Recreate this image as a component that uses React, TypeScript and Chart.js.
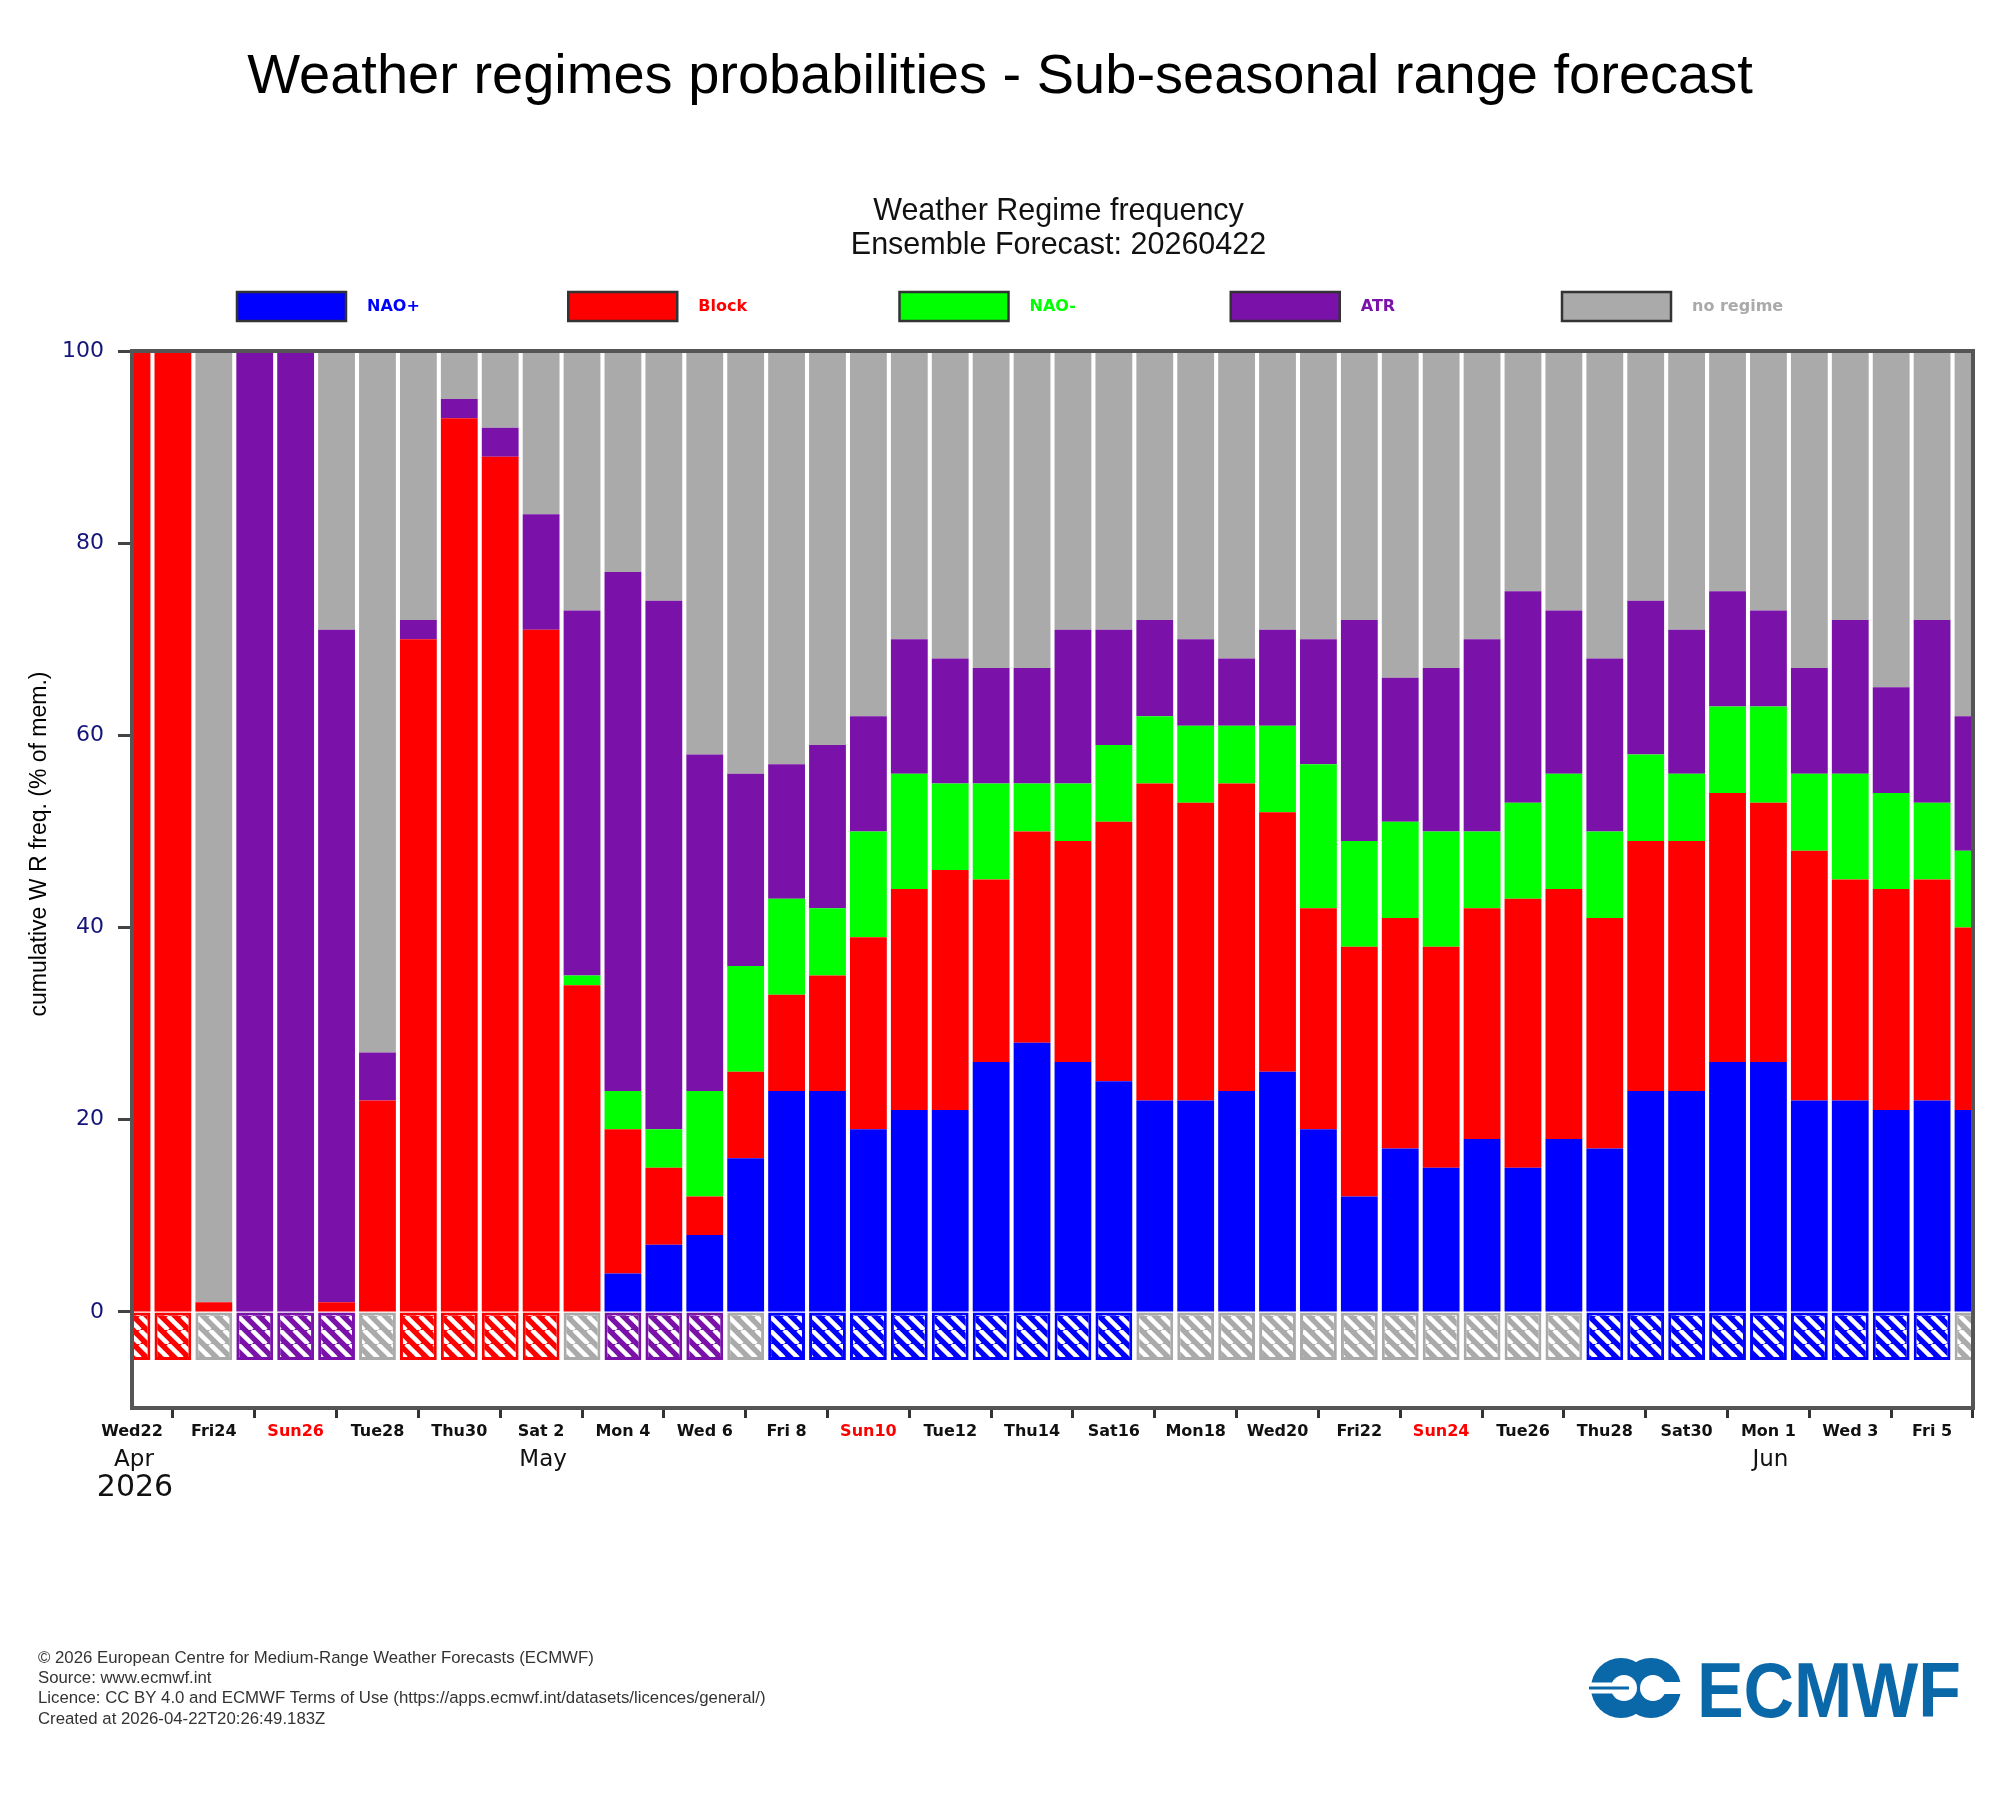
import React, { useEffect, useRef } from 'react';
import { Chart, registerables } from 'chart.js';

Chart.register(...registerables);

// ---------- data ----------
const categories = [
  'Apr 22', 'Apr 23', 'Apr 24', 'Apr 25', 'Apr 26', 'Apr 27', 'Apr 28', 'Apr 29', 'Apr 30',
  'May 1', 'May 2', 'May 3', 'May 4', 'May 5', 'May 6', 'May 7', 'May 8', 'May 9', 'May 10',
  'May 11', 'May 12', 'May 13', 'May 14', 'May 15', 'May 16', 'May 17', 'May 18', 'May 19',
  'May 20', 'May 21', 'May 22', 'May 23', 'May 24', 'May 25', 'May 26', 'May 27', 'May 28',
  'May 29', 'May 30', 'May 31', 'Jun 1', 'Jun 2', 'Jun 3', 'Jun 4', 'Jun 5', 'Jun 6',
];

const tickLabels = [
  'Wed22', 'Fri24', 'Sun26', 'Tue28', 'Thu30', 'Sat 2', 'Mon 4', 'Wed 6', 'Fri 8', 'Sun10',
  'Tue12', 'Thu14', 'Sat16', 'Mon18', 'Wed20', 'Fri22', 'Sun24', 'Tue26', 'Thu28', 'Sat30',
  'Mon 1', 'Wed 3', 'Fri 5',
];

const monthLabels = ['Apr', 'May', 'Jun'];
const monthLabelIndex = [0, 10, 40];
const yearLabel = '2026';
const yTickValues = [0, 20, 40, 60, 80, 100];

const naoPlus = [
  0, 0, 0, 0, 0, 0, 0, 0, 0, 0, 0, 0, 4, 7, 8, 16, 23, 23, 19, 21, 21, 26, 28, 26, 24, 22, 22,
  23, 25, 19, 12, 17, 15, 18, 15, 18, 17, 23, 23, 26, 26, 22, 22, 21, 22, 21,
];
const block = [
  100, 100, 1, 0, 0, 1, 22, 70, 93, 89, 71, 34, 15, 8, 4, 9, 10, 12, 20, 23, 25, 19, 22, 23, 27,
  33, 31, 32, 27, 23, 26, 24, 23, 24, 28, 26, 24, 26, 26, 28, 27, 26, 23, 23, 23, 19,
];
const naoMinus = [
  0, 0, 0, 0, 0, 0, 0, 0, 0, 0, 0, 1, 4, 4, 11, 11, 10, 7, 11, 12, 9, 10, 5, 6, 8, 7, 8, 6, 9,
  15, 11, 10, 12, 8, 10, 12, 9, 9, 7, 9, 10, 8, 11, 10, 8, 8,
];
const atr = [
  0, 0, 0, 100, 100, 70, 5, 2, 2, 3, 12, 38, 54, 55, 35, 20, 14, 17, 12, 14, 13, 12, 12, 16, 12,
  10, 9, 7, 10, 13, 23, 15, 17, 20, 22, 17, 18, 16, 15, 12, 10, 11, 16, 11, 19, 14,
];
const noRegime = [
  0, 0, 99, 0, 0, 29, 73, 28, 5, 8, 17, 27, 23, 26, 42, 44, 43, 41, 38, 30, 32, 33, 33, 29, 29,
  28, 30, 32, 29, 30, 28, 34, 33, 30, 25, 27, 32, 26, 29, 25, 27, 33, 28, 35, 28, 38,
];

// dominant regime per day (hatched boxes under the zero line)
const dominantRegime = [
  'Block', 'Block', 'no regime', 'ATR', 'ATR', 'ATR', 'no regime', 'Block', 'Block', 'Block',
  'Block', 'no regime', 'ATR', 'ATR', 'ATR', 'no regime',
  'NAO+', 'NAO+', 'NAO+', 'NAO+', 'NAO+', 'NAO+', 'NAO+', 'NAO+', 'NAO+',
  'no regime', 'no regime', 'no regime', 'no regime', 'no regime', 'no regime', 'no regime',
  'no regime', 'no regime', 'no regime', 'no regime',
  'NAO+', 'NAO+', 'NAO+', 'NAO+', 'NAO+', 'NAO+', 'NAO+', 'NAO+', 'NAO+',
  'no regime',
];

const regimeNames = ['NAO+', 'Block', 'NAO-', 'ATR', 'no regime'];
const regimeSeries = [naoPlus, block, naoMinus, atr, noRegime];

const footerLines = [
  '\u00A9 2026 European Centre for Medium-Range Weather Forecasts (ECMWF)',
  'Source: www.ecmwf.int',
  'Licence: CC BY 4.0 and ECMWF Terms of Use (https://apps.ecmwf.int/datasets/licences/general/)',
  'Created at 2026-04-22T20:26:49.183Z',
];

// ---------- styles ----------
const regimeColors: Record<string, string> = {
  'NAO+': '#0000ff',
  Block: '#ff0000',
  'NAO-': '#00ff00',
  ATR: '#7a12a9',
  'no regime': '#aaaaaa',
};
const HATCH_DEPTH = -5;
const LOGO_BLUE = '#0a68a8';

function makePattern(ctx: CanvasRenderingContext2D, color: string) {
  const s = 14;
  const c = document.createElement('canvas');
  c.width = s;
  c.height = s;
  const g = c.getContext('2d')!;
  g.fillStyle = color;
  g.fillRect(0, 0, s, s);
  g.strokeStyle = '#ffffff';
  g.lineWidth = 4.5;
  for (const off of [-s, 0, s]) {
    g.beginPath();
    g.moveTo(off, 0);
    g.lineTo(off + s, s);
    g.stroke();
  }
  return ctx.createPattern(c, 'repeat') as CanvasPattern;
}

const decorPlugin = {
  id: 'decor',
  beforeDraw(chart: any) {
    const { ctx, width, height } = chart;
    ctx.save();
    ctx.fillStyle = '#ffffff';
    ctx.fillRect(0, 0, width, height);
    ctx.restore();
  },
  afterDatasetsDraw(chart: any) {
    const { ctx, chartArea } = chart;
    ctx.save();
    ctx.strokeStyle = '#555555';
    ctx.lineWidth = 4;
    ctx.strokeRect(chartArea.left, chartArea.top, chartArea.right - chartArea.left, chartArea.bottom - chartArea.top);
    ctx.restore();
  },
  afterDraw(chart: any) {
    const { ctx, chartArea } = chart;
    const xScale = chart.scales.x;
    const cx = (chartArea.left + chartArea.right) / 2;
    ctx.save();

    // main title
    ctx.fillStyle = '#000000';
    ctx.textAlign = 'center';
    ctx.textBaseline = 'middle';
    ctx.font = '56px "Liberation Sans"';
    ctx.fillText('Weather regimes probabilities - Sub-seasonal range forecast', 1000, 78);

    // sub title
    ctx.fillStyle = '#111111';
    ctx.font = '30.5px "Liberation Sans"';
    ctx.fillText('Weather Regime frequency', cx + 6, 212);
    ctx.fillText('Ensemble Forecast: 20260422', cx + 6, 246);

    // legend
    regimeNames.forEach((name, k) => {
      const bx = 237 + k * 331.25;
      const by = 292;
      ctx.fillStyle = regimeColors[name];
      ctx.fillRect(bx, by, 109, 29);
      ctx.strokeStyle = '#333333';
      ctx.lineWidth = 2.5;
      ctx.strokeRect(bx, by, 109, 29);
      ctx.fillStyle = regimeColors[name];
      ctx.font = 'bold 16px "DejaVu Sans"';
      ctx.textAlign = 'left';
      ctx.textBaseline = 'middle';
      ctx.fillText(name, bx + 130, by + 15);
    });

    // y axis title
    ctx.save();
    ctx.translate(40, 844);
    ctx.rotate(-Math.PI / 2);
    ctx.fillStyle = '#000000';
    ctx.font = '23px "Liberation Sans"';
    ctx.textAlign = 'center';
    ctx.textBaseline = 'middle';
    ctx.fillText('cumulative W R freq. (% of mem.)', 0, 0);
    ctx.restore();

    // month + year labels
    ctx.fillStyle = '#111111';
    ctx.textAlign = 'center';
    ctx.textBaseline = 'middle';
    ctx.font = '23px "DejaVu Sans"';
    monthLabels.forEach((m, i) => {
      ctx.fillText(m, xScale.getPixelForValue(monthLabelIndex[i]) + 2, 1460);
    });
    ctx.font = '30px "DejaVu Sans"';
    ctx.fillText(yearLabel, xScale.getPixelForValue(monthLabelIndex[0]) + 3, 1488);

    // footer
    ctx.fillStyle = '#333333';
    ctx.textAlign = 'left';
    ctx.font = '16.8px "Liberation Sans"';
    footerLines.forEach((line, i) => {
      ctx.fillText(line, 38, 1658 + i * 20.4);
    });

    // logo symbol
    ctx.fillStyle = LOGO_BLUE;
    ctx.beginPath();
    ctx.arc(1621, 1688, 30, 0, Math.PI * 2);
    ctx.fill();
    ctx.beginPath();
    ctx.arc(1651, 1688, 30, 0, Math.PI * 2);
    ctx.fill();
    ctx.fillStyle = '#ffffff';
    ctx.beginPath();
    ctx.arc(1624, 1688, 13, 0, Math.PI * 2);
    ctx.fill();
    ctx.beginPath();
    ctx.arc(1653, 1688, 13, 0, Math.PI * 2);
    ctx.fill();
    ctx.fillRect(1586, 1682.5, 38, 11);
    ctx.fillRect(1653, 1682, 32, 12);
    ctx.fillStyle = LOGO_BLUE;
    ctx.fillRect(1589, 1686.5, 40, 3);

    // logo text
    ctx.font = 'bold 78px "Liberation Sans"';
    ctx.textBaseline = 'alphabetic';
    const w = ctx.measureText('ECMWF').width;
    ctx.save();
    ctx.translate(1697, 1717);
    ctx.scale(264 / w, 1);
    ctx.fillText('ECMWF', 0, 0);
    ctx.restore();

    ctx.restore();
  },
};

export default function App() {
  const ref = useRef<HTMLCanvasElement | null>(null);

  useEffect(() => {
    const canvas = ref.current!;
    const ctx = canvas.getContext('2d')!;
    const patterns: Record<string, CanvasPattern> = {};
    regimeNames.forEach((n) => {
      patterns[n] = makePattern(ctx, regimeColors[n]);
    });

    const hatchDataset = {
      label: 'dominant',
      data: dominantRegime.map(() => HATCH_DEPTH),
      backgroundColor: (c: any) =>
        c.dataIndex === undefined ? '#ffffff' : patterns[dominantRegime[c.dataIndex]],
      borderColor: (c: any) =>
        c.dataIndex === undefined ? '#ffffff' : regimeColors[dominantRegime[c.dataIndex]],
      borderWidth: 3,
      borderSkipped: false,
      barPercentage: 0.9,
      categoryPercentage: 1,
      clip: 0,
    };

    const regimeDatasets = regimeNames.map((name, i) => ({
      label: name,
      data: regimeSeries[i],
      backgroundColor: regimeColors[name],
      borderWidth: 0,
      barPercentage: 0.9,
      categoryPercentage: 1,
      clip: 0,
    }));

    const chart = new Chart(canvas, {
      type: 'bar',
      data: {
        labels: categories,
        datasets: [hatchDataset as any, ...regimeDatasets],
      },
      plugins: [decorPlugin],
      options: {
        animation: false,
        responsive: false,
        devicePixelRatio: 1,
        events: [],
        layout: { padding: { top: 351, right: 27, bottom: 0, left: 0 } },
        plugins: {
          legend: { display: false },
          tooltip: { enabled: false },
          title: { display: false },
        },
        scales: {
          x: {
            type: 'category',
            stacked: true,
            offset: false,
            grid: {
              drawOnChartArea: false,
              drawTicks: true,
              tickLength: 10,
              tickWidth: 3,
              tickColor: '#333333',
            },
            border: { display: false },
            ticks: {
              autoSkip: false,
              maxRotation: 0,
              minRotation: 0,
              padding: 4,
              font: { family: 'DejaVu Sans', size: 16, weight: 'bold' },
              color: (c: any) =>
                c.tick && typeof c.tick.label === 'string' && c.tick.label.startsWith('Sun')
                  ? '#ff0000'
                  : '#111111',
              callback: (_v: any, index: number) =>
                index % 2 === 0 ? tickLabels[index / 2] : null,
            },
            afterFit: (scale: any) => {
              scale.height = 392;
            },
          },
          y: {
            stacked: true,
            min: -10,
            max: 100,
            grid: {
              drawOnChartArea: false,
              drawTicks: true,
              tickLength: 14,
              tickWidth: 3,
              tickColor: '#444444',
            },
            border: { display: false },
            ticks: {
              padding: 14,
              font: { family: 'DejaVu Sans', size: 22 },
              color: '#14147a',
            },
            afterBuildTicks: (scale: any) => {
              scale.ticks = yTickValues.map((v) => ({ value: v }));
            },
            afterFit: (scale: any) => {
              scale.width = 132;
            },
          },
        },
      } as any,
    });

    return () => chart.destroy();
  }, []);

  return (
    <div style={{ position: 'absolute', left: 0, top: 0, width: 2000, height: 1800, background: '#ffffff' }}>
      <canvas ref={ref} width={2000} height={1800} style={{ display: 'block', width: 2000, height: 1800 }} />
    </div>
  );
}
